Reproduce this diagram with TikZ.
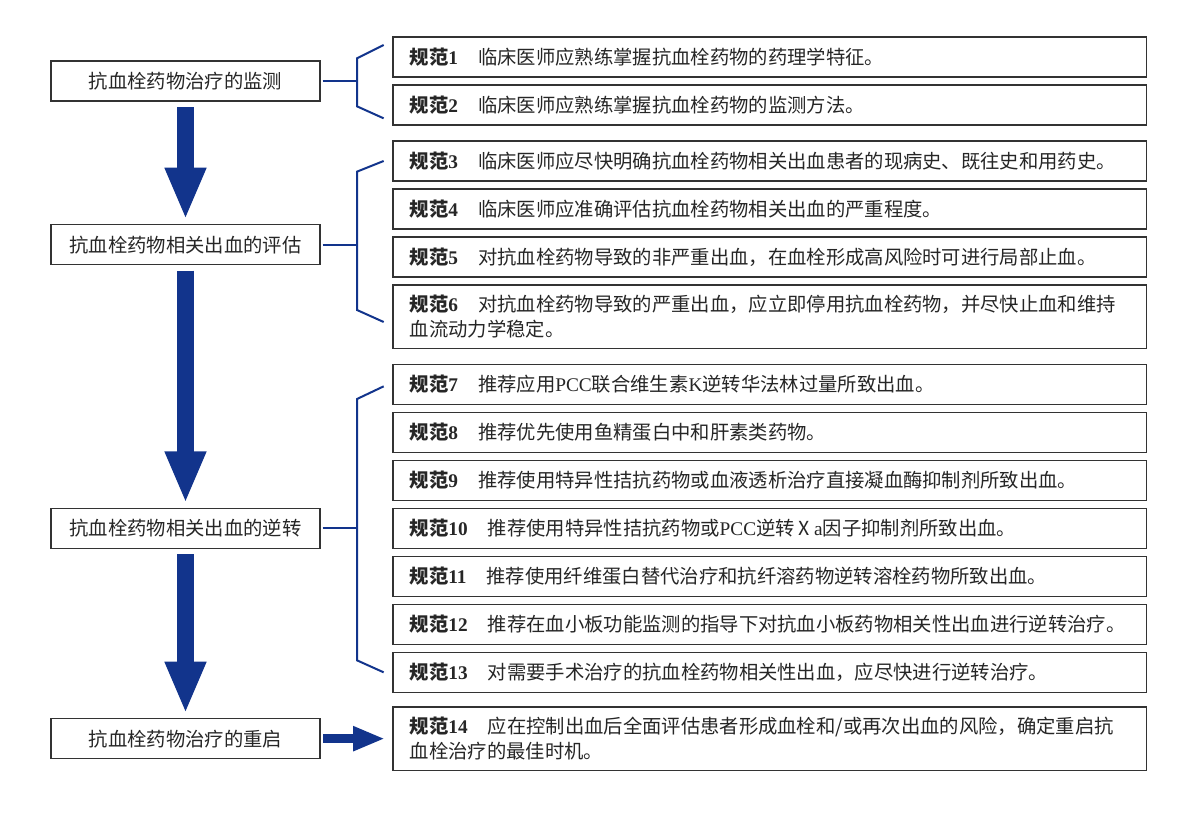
\documentclass[tikz,border=0pt]{standalone}
\usepackage{fontspec}
\usepackage{tikz}
\usetikzlibrary{positioning,arrows.meta,calc}
\setmainfont{Noto Sans CJK SC}
\newfontfamily\latinfont{Liberation Serif}
\definecolor{guideblue}{RGB}{18,52,140}
\newcommand{\gfl}[1]{\textbf{规范{\latinfont #1}}\hspace{15pt}}

\begin{document}
\begin{tikzpicture}[
  node distance=6pt,
  font=\fontsize{14.5pt}{19pt}\selectfont,
  rbox/.style={draw=black!80, line width=0.9pt, outer sep=0pt, text width=540pt, inner xsep=12.5pt, inner ysep=3pt, minimum height=30pt, align=left, text=black!85},
  rbox2/.style={rbox, minimum height=47.5pt},
  lbox/.style={draw=black!80, line width=0.9pt, outer sep=0pt, minimum width=201.75pt, minimum height=30pt, align=center, text=black!85},
  link/.style={guideblue, line width=1.5pt},
  bigarr/.style={guideblue, line width=12.75pt, -{Triangle[length=39pt,width=28.5pt]}, shorten <=4.5pt, shorten >=3.75pt},
  sidearr/.style={guideblue, line width=6.75pt, -{Triangle[length=24pt,width=17.25pt]}, shorten <=2.25pt, shorten >=6pt}
]
\useasboundingbox (0,0) rectangle (887.25pt,-610.5pt);

% right column: the guideline boxes
\node[rbox, anchor=north west] (r1) at (294.75pt,-27.75pt) {\gfl{1}临床医师应熟练掌握抗血栓药物的药理学特征。};
\node[rbox, below=of r1] (r2) {\gfl{2}临床医师应熟练掌握抗血栓药物的监测方法。};
\node[rbox, below=12pt of r2] (r3) {\gfl{3}临床医师应尽快明确抗血栓药物相关出血患者的现病史、既往史和用药史。};
\node[rbox, below=of r3] (r4) {\gfl{4}临床医师应准确评估抗血栓药物相关出血的严重程度。};
\node[rbox, below=of r4] (r5) {\gfl{5}对抗血栓药物导致的非严重出血，在血栓形成高风险时可进行局部止血。};
\node[rbox2, below=of r5] (r6) {\gfl{6}对抗血栓药物导致的严重出血，应立即停用抗血栓药物，并尽快止血和维持\\血流动力学稳定。};
\node[rbox, below=12pt of r6] (r7) {\gfl{7}推荐应用{\latinfont PCC}联合维生素{\latinfont K}逆转华法林过量所致出血。};
\node[rbox, below=of r7] (r8) {\gfl{8}推荐优先使用鱼精蛋白中和肝素类药物。};
\node[rbox, below=of r8] (r9) {\gfl{9}推荐使用特异性拮抗药物或血液透析治疗直接凝血酶抑制剂所致出血。};
\node[rbox, below=of r9] (r10) {\gfl{10}推荐使用特异性拮抗药物或{\latinfont PCC}逆转Ⅹ{\latinfont a}因子抑制剂所致出血。};
\node[rbox, below=of r10] (r11) {\gfl{11}推荐使用纤维蛋白替代治疗和抗纤溶药物逆转溶栓药物所致出血。};
\node[rbox, below=of r11] (r12) {\gfl{12}推荐在血小板功能监测的指导下对抗血小板药物相关性出血进行逆转治疗。};
\node[rbox, below=of r12] (r13) {\gfl{13}对需要手术治疗的抗血栓药物相关性出血，应尽快进行逆转治疗。};
\node[rbox2, below=11pt of r13] (r14) {\gfl{14}应在控制出血后全面评估患者形成血栓和/或再次出血的风险，确定重启抗\\血栓治疗的最佳时机。};

% left column: the four stages
\coordinate (m1) at ($(r1.north west)!0.5!(r2.south west)$);
\coordinate (m2) at ($(r3.north west)!0.5!(r6.south west)$);
\coordinate (m3) at ($(r7.north west)!0.5!(r13.south west)$);
\node[lbox, left=54.75pt of m1] (monitor) {抗血栓药物治疗的监测};
\node[lbox, left=54.75pt of m2] (assess) {抗血栓药物相关出血的评估};
\node[lbox, left=54.75pt of m3] (reverse) {抗血栓药物相关出血的逆转};
\node[lbox, left=54.75pt of r14.west] (restart) {抗血栓药物治疗的重启};

\draw[bigarr] (monitor) -- (assess);
\draw[bigarr] (assess) -- (reverse);
\draw[bigarr] (reverse) -- (restart);
\draw[sidearr] (restart) -- (r14);

% brackets
\draw[link] ([xshift=2pt]monitor.east) -- ([xshift=-27pt]monitor.east -| r1.west);
\draw[link] ([xshift=-7pt,yshift=-6pt]r1.north west) -- ([xshift=-27pt,yshift=-16pt]r1.north west)
  -- ([xshift=-27pt,yshift=14pt]r2.south west) -- ([xshift=-7pt,yshift=5pt]r2.south west);
\draw[link] ([xshift=2pt]assess.east) -- ([xshift=-27pt]assess.east -| r3.west);
\draw[link] ([xshift=-7pt]r3.west) -- ([xshift=-27pt,yshift=-8pt]r3.west)
  -- ([xshift=-27pt,yshift=5pt]r6.west) -- ([xshift=-7pt,yshift=-4pt]r6.west);
\draw[link] ([xshift=2pt]reverse.east) -- ([xshift=-27pt]reverse.east -| r7.west);
\draw[link] ([xshift=-7pt,yshift=-1.5pt]r7.west) -- ([xshift=-27pt,yshift=-11pt]r7.west)
  -- ([xshift=-27pt,yshift=9pt]r13.west) -- ([xshift=-7pt]r13.west);
\end{tikzpicture}
\end{document}
